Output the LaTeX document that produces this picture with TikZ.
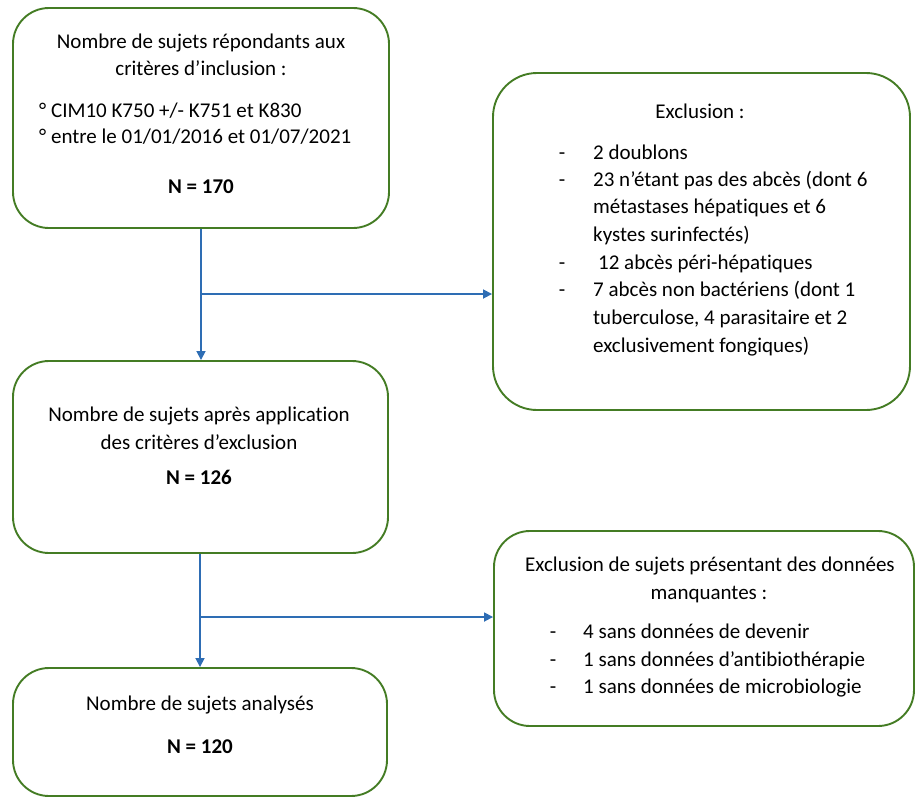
\documentclass[tikz,border=0pt]{standalone}
\usepackage{fontspec}
\setmainfont[Ligatures=NoCommon]{Carlito}
\usetikzlibrary{arrows.meta}
\definecolor{boxgreen}{RGB}{68,124,36}
\definecolor{arrblue}{RGB}{46,109,180}
\begin{document}
\begin{tikzpicture}[x=1pt,y=-1pt,
  box/.style={draw=boxgreen, line width=1.9pt, rounded corners=36pt, inner sep=0pt},
  txt/.style={anchor=base, inner sep=0pt, font=\fontsize{21}{27}\selectfont},
  txtl/.style={txt, anchor=base west},
  flow/.style={draw=arrblue, line width=1.7pt},
  arr/.style={flow, -{Triangle[length=9pt,width=9pt]}}]
\useasboundingbox (0,0) rectangle (916,796);
% boxes
\node[box, minimum width=376pt, minimum height=220pt] (b1) at (201,118) {};
\node[box, minimum width=375pt, minimum height=192pt] (b2) at (200.5,457) {};
\node[box, minimum width=374pt, minimum height=128pt] (b3) at (200,732) {};
\node[box, minimum width=417pt, minimum height=337pt, rounded corners=44pt] (ex) at (701.5,241.5) {};
\node[box, minimum width=420pt, minimum height=195pt] (mq) at (704,628.5) {};
% box 1 text
\node[txt] (t1a) at (201,48) {Nombre de sujets répondants aux};
\node[txt] (t1b) at (201,75) {critères d’inclusion :};
\node[txtl] (t1c) at (39,117) {° CIM10 K750 +/- K751 et K830};
\node[txtl] (t1d) at (39,143) {° entre le 01/01/2016 et 01/07/2021};
\node[txt] (t1e) at (201,193) {\bfseries N = 170};
% box 2 text
\node[txt] (t2a) at (199,421) {Nombre de sujets après application};
\node[txt] (t2b) at (199,449) {des critères d’exclusion};
\node[txt] (t2c) at (199,484) {\bfseries N = 126};
% box 3 text
\node[txt] (t3a) at (200,710) {Nombre de sujets analysés};
\node[txt] (t3b) at (200,753) {\bfseries N = 120};
% exclusion box text
\node[txt] (e0) at (700,118) {Exclusion :};
\node[txt] (d1) at (562,159) {-};
\node[txtl] (e1) at (593,159) {2 doublons};
\node[txt] (d2) at (562,186) {-};
\node[txtl] (e2) at (593,186) {23 n’étant pas des abcès (dont 6};
\node[txtl] (e3) at (593,213) {métastases hépatiques et 6};
\node[txtl] (e4) at (593,241) {kystes surinfectés)};
\node[txt] (d3) at (562,269) {-};
\node[txtl] (e5) at (598,269) {12 abcès péri-hépatiques};
\node[txt] (d4) at (562,296) {-};
\node[txtl] (e6) at (593,296) {7 abcès non bactériens (dont 1};
\node[txtl] (e7) at (593,324) {tuberculose, 4 parasitaire et 2};
\node[txtl] (e8) at (593,352) {exclusivement fongiques)};
% missing data box text
\node[txt] (m0) at (710,571) {Exclusion de sujets présentant des données};
\node[txt] (m1) at (709,599) {manquantes :};
\node[txt] (md1) at (553,638) {-};
\node[txtl] (m2) at (583,638) {4 sans données de devenir};
\node[txt] (md2) at (553,666) {-};
\node[txtl] (m3) at (583,666) {1 sans données d’antibiothérapie};
\node[txt] (md3) at (553,693) {-};
\node[txtl] (m4) at (583,693) {1 sans données de microbiologie};
% connectors
\coordinate (j1) at (201,294);
\coordinate (j2) at (200,617);
\draw[arr] (b1.south -| j1) -- (b2.north -| j1);
\draw[arr] (j1) -- (j1 -| ex.west);
\draw[arr] (b2.south -| j2) -- (b3.north -| j2);
\draw[arr] (j2) -- (j2 -| mq.west);
\end{tikzpicture}
\end{document}
